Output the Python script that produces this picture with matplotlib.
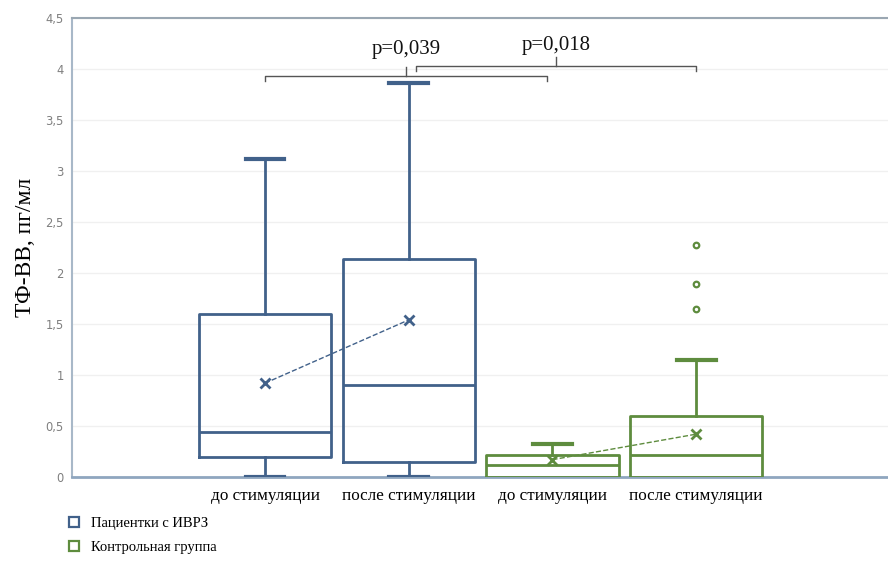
import matplotlib.pyplot as plt
from matplotlib.lines import Line2D

categories = ['до стимуляции', 'после стимуляции', 'до стимуляции', 'после стимуляции']
groups = ['Пациентки с ИВРЗ', 'Контрольная группа']
group_of_box = [0, 0, 1, 1]

q1 = [0.20, 0.15, 0.0, 0.0]
med = [0.44, 0.90, 0.12, 0.22]
q3 = [1.60, 2.14, 0.22, 0.60]
whislo = [0.0, 0.0, 0.0, 0.0]
whishi = [3.12, 3.86, 0.32, 1.15]
means = [0.92, 1.54, 0.17, 0.42]
fliers = [[], [], [], [2.27, 1.89, 1.65]]

# pairs compared (box index from, box index to, p-value text)
comparisons = [(0, 2, 'p=0,039'), (1, 3, 'p=0,018')]

colors = ['#41618a', '#5e8c3e']
serif = 'Liberation Serif'

fig = plt.figure(figsize=(8.88, 5.67), dpi=100)
ax = fig.add_axes([72 / 888, 90 / 567, 1 - 72 / 888, 459 / 567])

positions = [1, 2, 3, 4]
stats = []
for i in range(4):
    stats.append({'q1': q1[i], 'med': med[i], 'q3': q3[i], 'whislo': whislo[i],
                  'whishi': whishi[i], 'mean': means[i], 'fliers': fliers[i]})

parts = ax.bxp(stats, positions=positions, widths=0.92, showmeans=True,
               manage_ticks=False, zorder=3)
for i in range(4):
    c = colors[group_of_box[i]]
    parts['boxes'][i].set(color=c, linewidth=2)
    parts['medians'][i].set(color=c, linewidth=2)
    parts['means'][i].set(marker='x', markeredgecolor=c, markersize=7, markeredgewidth=2)
    for w in parts['whiskers'][2 * i:2 * i + 2]:
        w.set(color=c, linewidth=2)
    for cap in parts['caps'][2 * i:2 * i + 2]:
        cap.set(color=c, linewidth=3)
        x0, x1 = cap.get_xdata()
        mid = (x0 + x1) / 2
        cap.set_xdata([mid - 0.135, mid + 0.135])
        # no cap drawn where the whisker has zero length
        if cap.get_ydata()[0] == q1[i]:
            cap.set_visible(False)
    parts['fliers'][i].set(marker='o', markersize=4, markerfacecolor='white',
                           markeredgecolor=c, markeredgewidth=1.6)

# dashed lines joining the means within each group
for g in range(2):
    idx = [i for i in range(4) if group_of_box[i] == g]
    ax.plot([positions[i] for i in idx], [means[i] for i in idx], ls='--',
            color=colors[g], lw=1, zorder=2)

# significance brackets
levels = [3.93, 4.03]
text_levels = [4.15, 4.19]
for (a, b, txt), y, ty in zip(comparisons, levels, text_levels):
    xa = positions[a] + 0.05 * a
    xb = positions[b] - 0.04 * (1 - a)
    xm = (xa + xb) / 2
    ax.plot([xa, xa, xb, xb], [y - 0.05, y, y, y - 0.05], color='#555555', lw=1, zorder=4)
    ax.plot([xm, xm], [y, y + 0.09], color='#555555', lw=1, zorder=4)
    ax.text(xm, ty, txt, ha='center', va='baseline', fontsize=15,
            family=serif, color='#111111')

ax.set_xlim(-0.343, 5.335)
ax.set_ylim(0, 4.5)
ax.set_yticks([0, 0.5, 1, 1.5, 2, 2.5, 3, 3.5, 4, 4.5])
ax.set_yticklabels(['0', '0,5', '1', '1,5', '2', '2,5', '3', '3,5', '4', '4,5'])
ax.set_xticks(positions)
ax.set_xticklabels(categories, family=serif, fontsize=12.3)
ax.tick_params(axis='x', length=0, pad=8)
ax.tick_params(axis='y', length=0, pad=6, labelsize=8.3, labelcolor='#7f7f7f')
ax.grid(axis='y', color='#f0f0f0', lw=1)
ax.set_axisbelow(True)

ax.spines['right'].set_visible(False)
ax.spines['top'].set_color('#9aa7b2')
ax.spines['top'].set_linewidth(1.5)
ax.spines['left'].set_color('#a8b8c8')
ax.spines['left'].set_linewidth(1.5)
ax.spines['bottom'].set_color('#8fa6bf')
ax.spines['bottom'].set_linewidth(2)

ax.set_ylabel('ТФ-ВВ, пг/мл', family=serif, fontsize=17)
ax.yaxis.set_label_coords(-0.044, 0.5)

handles = [Line2D([], [], ls='none', marker='s', markersize=7, markerfacecolor='white',
                  markeredgecolor=colors[g], markeredgewidth=1.6) for g in range(2)]
fig.legend(handles, groups, loc='lower left', bbox_to_anchor=(0.06, 0.0), frameon=False,
           prop={'family': serif, 'size': 10.5}, handlelength=1, handletextpad=0.7,
           labelspacing=0.75)

fig.savefig('out.png', dpi=100)
